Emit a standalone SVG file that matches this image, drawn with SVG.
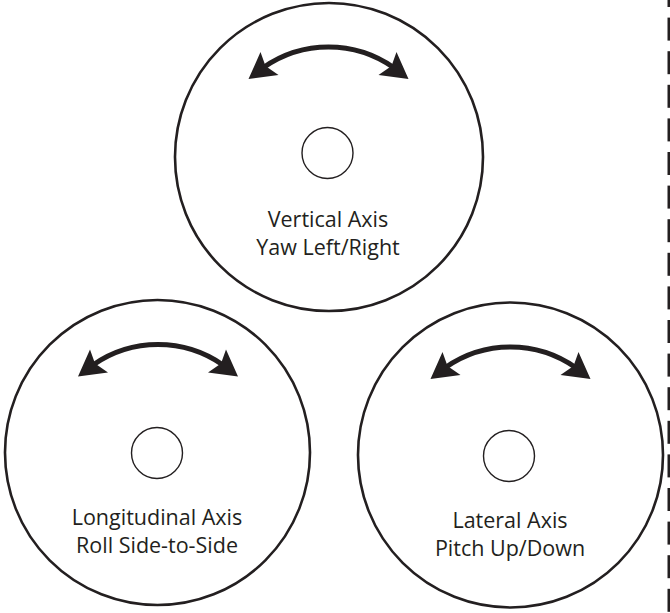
<svg xmlns="http://www.w3.org/2000/svg" xmlns:xlink="http://www.w3.org/1999/xlink" width="670" height="613" viewBox="0 0 670 613">
  <style>
    .disc { fill: none; stroke: #231f20; stroke-width: 2.6; }
    .hub { fill: none; stroke: #231f20; stroke-width: 1.4; }
    .label { font-family: "Open Sans", "Noto Sans", "Liberation Sans", sans-serif; font-size: 21.5px; fill: #231f20; text-anchor: middle; }
    .shaft { fill: none; stroke: #231f20; stroke-width: 5; }
    .head { fill: #231f20; }
    .tick { fill: #231f20; }
  </style>
  <defs>
    <!-- double-headed swing arrow, drawn about a disc centre -->
    <g id="swing">
      <path class="shaft" d="M -65 -87.5 A 113.5 113.5 0 0 1 65 -87.5"/>
      <path class="head" d="M -80 -76 L -68 -103 L -63 -89 L -50 -80 Z"/>
      <path class="head" d="M 80 -76 L 68 -103 L 63 -89 L 50 -80 Z"/>
    </g>
  </defs>

  <rect width="670" height="613" fill="#ffffff"/>

  <g id="vertical-axis">
    <circle class="disc" cx="329" cy="157" r="154"/>
    <circle class="hub" cx="327.5" cy="153" r="25.5"/>
    <use xlink:href="#swing" transform="translate(328.5 155)"/>
    <text class="label" x="328" y="227">Vertical Axis</text>
    <text class="label" x="328" y="255">Yaw Left/Right</text>
  </g>

  <g id="longitudinal-axis">
    <circle class="disc" cx="157.5" cy="452.5" r="152.5"/>
    <circle class="hub" cx="157" cy="453" r="25.5"/>
    <use xlink:href="#swing" transform="translate(158 452.5)"/>
    <text class="label" x="157" y="525">Longitudinal Axis</text>
    <text class="label" x="157" y="553">Roll Side-to-Side</text>
  </g>

  <g id="lateral-axis">
    <circle class="disc" cx="510.5" cy="455" r="152.5"/>
    <circle class="hub" cx="509" cy="456" r="25.5"/>
    <use xlink:href="#swing" transform="translate(510.5 455)"/>
    <text class="label" x="510" y="528">Lateral Axis</text>
    <text class="label" x="510" y="556">Pitch Up/Down</text>
  </g>

  <!-- ruler ticks along the right edge -->
  <g id="edge-ticks">
    <rect class="tick" x="667.5" y="-16" width="2.5" height="23"/>
    <rect class="tick" x="667.5" y="17.6" width="2.5" height="23"/>
    <rect class="tick" x="667.5" y="51.2" width="2.5" height="23"/>
    <rect class="tick" x="667.5" y="84.8" width="2.5" height="23"/>
    <rect class="tick" x="667.5" y="118.4" width="2.5" height="23"/>
    <rect class="tick" x="667.5" y="152" width="2.5" height="23"/>
    <rect class="tick" x="667.5" y="185.6" width="2.5" height="23"/>
    <rect class="tick" x="667.5" y="219.2" width="2.5" height="23"/>
    <rect class="tick" x="667.5" y="252.8" width="2.5" height="23"/>
    <rect class="tick" x="667.5" y="286.4" width="2.5" height="23"/>
    <rect class="tick" x="667.5" y="320" width="2.5" height="23"/>
    <rect class="tick" x="667.5" y="353.6" width="2.5" height="23"/>
    <rect class="tick" x="667.5" y="387.2" width="2.5" height="23"/>
    <rect class="tick" x="667.5" y="420.8" width="2.5" height="23"/>
    <rect class="tick" x="667.5" y="454.4" width="2.5" height="23"/>
    <rect class="tick" x="667.5" y="488" width="2.5" height="23"/>
    <rect class="tick" x="667.5" y="521.6" width="2.5" height="23"/>
    <rect class="tick" x="667.5" y="555.2" width="2.5" height="23"/>
    <rect class="tick" x="667.5" y="588.8" width="2.5" height="23"/>
  </g>
</svg>
